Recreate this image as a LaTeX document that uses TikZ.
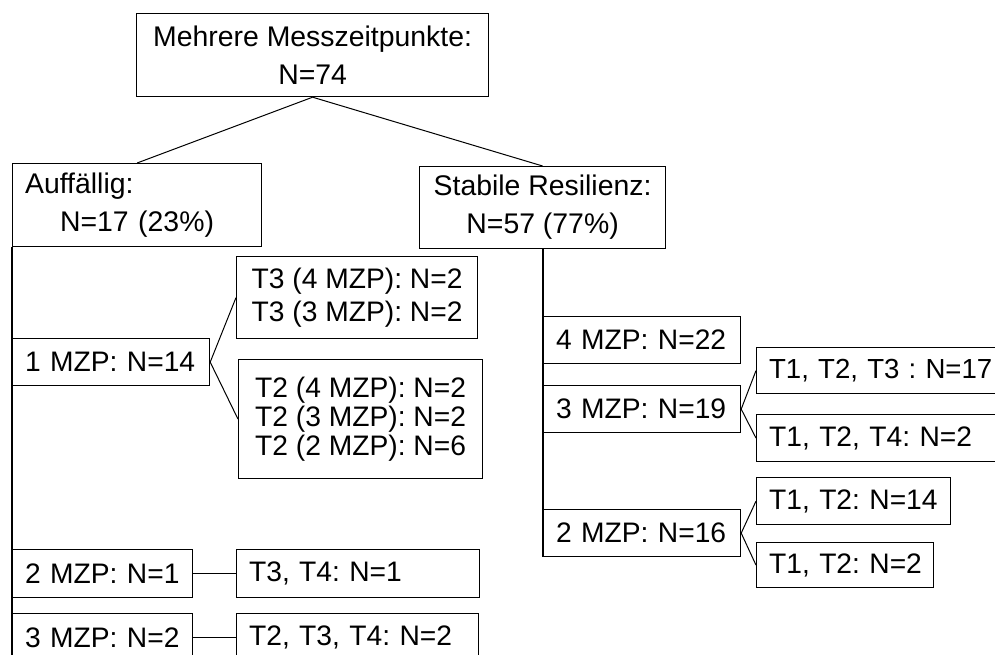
\documentclass[tikz,border=0pt]{standalone}
\usepackage{fontspec}
\setmainfont{Liberation Sans}
\usetikzlibrary{positioning}

\newcommand{\boxfont}{\fontsize{28.2}{29}\selectfont\frenchspacing}
\newcommand{\headfont}{\fontsize{28.4}{38}\selectfont\frenchspacing}

\tikzset{
  box/.style={draw, line width=1.2pt, anchor=north west, inner ysep=0pt, font=\boxfont},
  cbox/.style={box, align=center, inner xsep=0pt},
  lbox/.style={box, align=left, inner xsep=0pt, execute at begin node={\hspace*{12.5pt}}},
  link/.style={line width=1pt},
}

\begin{document}
\begin{tikzpicture}[x=1pt, y=-1pt]
    \useasboundingbox (0,0) rectangle (995,654);
    \clip (0,0) rectangle (995,654);

  % Top level
    \node[cbox, font=\headfont, minimum width=352pt, minimum height=83pt] (all) at (136,13)
        {Mehrere Messzeitpunkte:\\N=74};
    \node[lbox, font=\headfont, text width=249pt, minimum height=83pt] (auff) at (12,163)
        {Auffällig:\\\hspace*{47.5pt}N=17 (23\%)};
    \node[cbox, font=\headfont, minimum width=246pt, minimum height=82pt] (stab) at (419,166)
        {Stabile Resilienz:\\N=57 (77\%)};

  % Auffaellig branch
    \node[lbox, text width=197pt, minimum height=47pt] (mzp1) at (12,338) {1 MZP: N=14};
    \node[cbox, minimum width=241pt, minimum height=82pt] (t3) at (236,256)
        {T3 (4 MZP): N=2\\[4pt]T3 (3 MZP): N=2};
    \node[cbox, minimum width=244pt, minimum height=119pt] (t2) at (238,359)
        {T2 (4 MZP): N=2\\T2 (3 MZP): N=2\\T2 (2 MZP): N=6};
    \node[lbox, text width=180pt, minimum height=48pt] (mzp2) at (12,549) {2 MZP: N=1};
    \node[lbox, text width=243pt, minimum height=48pt] (t34) at (236,549) {T3, T4: N=1};
    \node[lbox, text width=180pt, minimum height=48pt] (mzp3) at (12,613) {3 MZP: N=2};
    \node[lbox, text width=242pt, minimum height=48pt] (t234) at (236,613) {T2, T3, T4: N=2};

  % Stabile branch
    \node[lbox, text width=197pt, minimum height=47pt] (mzp4r) at (543,316) {4 MZP: N=22};
    \node[lbox, text width=197pt, minimum height=47pt] (mzp3r) at (543,385) {3 MZP: N=19};
    \node[lbox, text width=197pt, minimum height=47pt] (mzp2r) at (543,509) {2 MZP: N=16};
    \node[lbox, font=\fontsize{27.6}{29}\selectfont\frenchspacing, text width=270pt, minimum height=46pt] (r17) at (756,347)
        {T1, T2, T3 : N=17};
    \node[lbox, text width=270pt, minimum height=47pt] (r2a) at (756,414) {T1, T2, T4: N=2};
    \node[lbox, text width=194pt, minimum height=47pt] (r14) at (756,477) {T1, T2: N=14};
    \node[lbox, text width=177pt, minimum height=45pt] (r2b) at (756,542) {T1, T2: N=2};

  % Lines
    \draw[link] (all.south) -- (auff.north);
    \draw[link] (all.south) -- (stab.north);
    \draw[line width=1.2pt] (auff.south west) -- (mzp3.south west);
    \draw[line width=1.2pt] (stab.south -| mzp2r.west) -- (mzp2r.south west);

    \draw[link] (mzp1.east) -- (t3.west);
    \draw[link] (mzp1.east) -- (t2.west);
    \draw[link] (mzp2.east) -- (t34.west);
    \draw[link] (mzp3.east) -- (t234.west);

    \draw[link] (mzp3r.east) -- (r17.west);
    \draw[link] (mzp3r.east) -- (r2a.west);
    \draw[link] (mzp2r.east) -- (r14.west);
    \draw[link] (mzp2r.east) -- (r2b.west);

\end{tikzpicture}
\end{document}
